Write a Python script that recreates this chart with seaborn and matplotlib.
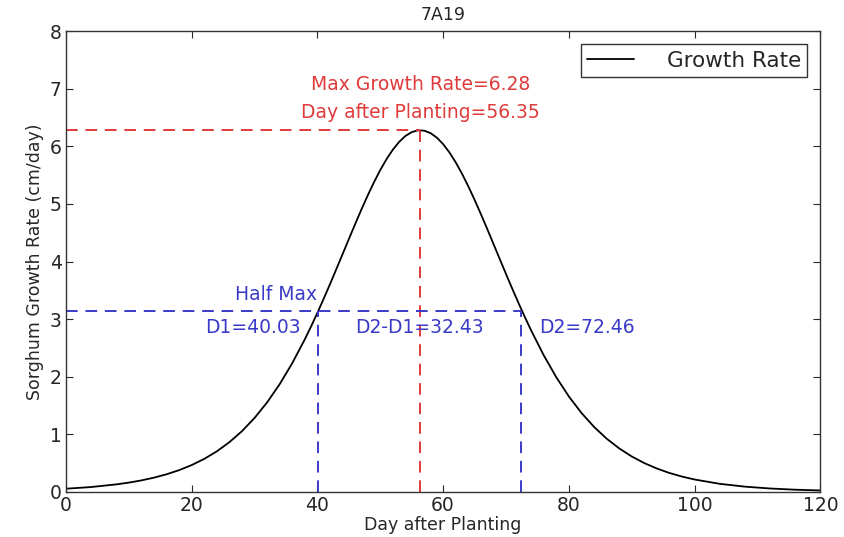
import matplotlib
matplotlib.use("Agg")
import matplotlib.pyplot as plt
import seaborn as sns
import pandas as pd

days = [0, 4, 8, 10, 12, 14, 16, 18, 20, 22, 24, 26, 28, 30, 32, 34, 36, 38, 39,
        40, 41, 42, 43, 44, 45, 46, 47, 48, 49, 50, 51, 52, 53, 54, 55, 56, 57,
        58, 59, 60, 61, 62, 63, 64, 65, 66, 67, 68, 69, 70, 71, 72, 73, 74, 76,
        78, 80, 82, 84, 86, 88, 90, 92, 94, 96, 98, 100, 104, 108, 112, 116, 120]
rate = [0.055, 0.084, 0.130, 0.161, 0.199, 0.247, 0.305, 0.377, 0.465, 0.572,
        0.703, 0.862, 1.053, 1.282, 1.552, 1.869, 2.233, 2.648, 2.872,
        3.107, 3.352, 3.604, 3.863, 4.124, 4.387, 4.647, 4.901, 5.145, 5.375,
        5.587, 5.777, 5.941, 6.076, 6.179, 6.246, 6.278, 6.272,
        6.230, 6.151, 6.039, 5.895, 5.723, 5.526, 5.308, 5.073, 4.826, 4.570,
        4.308, 4.046, 3.785, 3.528, 3.278, 3.036, 2.804, 2.373,
        1.991, 1.657, 1.371, 1.129, 0.925, 0.756, 0.615, 0.500, 0.406, 0.328,
        0.266, 0.215, 0.140, 0.091, 0.059, 0.038, 0.025]

max_rate = 6.28
peak_day = 56.35
half_max = 3.14
d1 = 40.03
d2 = 72.46
width = 32.43

sns.set_style("ticks")
plt.rcParams["font.family"] = ["DejaVu Sans"]
plt.rcParams["xtick.direction"] = "in"
plt.rcParams["ytick.direction"] = "in"

fig = plt.figure(figsize=(8.44, 5.37), dpi=100)
ax = fig.add_axes([0.078, 0.084, 0.894, 0.858])

df = pd.DataFrame({"day": days, "rate": rate})
sns.lineplot(data=df, x="day", y="rate", color="black", linewidth=1.3,
             label="Growth Rate", ax=ax)

red = "#e03a3a"
blue = "#3a3ac8"
ax.plot([0, peak_day], [max_rate, max_rate], "--", color=red, lw=1.4, dashes=(6, 4))
ax.plot([peak_day, peak_day], [0, max_rate], "--", color=red, lw=1.4, dashes=(6, 4))
ax.plot([0, d2], [half_max, half_max], "--", color=blue, lw=1.4, dashes=(6, 4))
ax.plot([d1, d1], [0, half_max], "--", color=blue, lw=1.4, dashes=(6, 4))
ax.plot([d2, d2], [0, half_max], "--", color=blue, lw=1.4, dashes=(6, 4))

fs = 13.5
ax.text(peak_day, 7.08, f"Max Growth Rate={max_rate}", color=red, ha="center", va="center", fontsize=fs)
ax.text(peak_day, 6.58, f"Day after Planting={peak_day}", color=red, ha="center", va="center", fontsize=fs)
ax.text(39.9, 3.42, "Half Max", color=blue, ha="right", va="center", fontsize=fs)
ax.text(37.3, 2.85, f"D1={d1}", color=blue, ha="right", va="center", fontsize=fs)
ax.text(56.2, 2.85, f"D2-D1={width}", color=blue, ha="center", va="center", fontsize=fs)
ax.text(75.3, 2.85, f"D2={d2}", color=blue, ha="left", va="center", fontsize=fs)

ax.set_xlim(0, 120)
ax.set_ylim(0, 8)
ax.set_xticks(range(0, 121, 20))
ax.set_yticks(range(0, 9))
ax.tick_params(top=True, right=True, labelsize=13.5, length=5, width=0.8, pad=3)
for s in ax.spines.values():
    s.set_linewidth(1.0)
    s.set_color("#333333")
ax.set_xlabel("Day after Planting", fontsize=12.5, labelpad=1)
ax.set_ylabel("Sorghum Growth Rate (cm/day)", fontsize=12.5)
ax.set_title("7A19", fontsize=12.5, pad=8)
leg = ax.legend(loc="upper right", fontsize=15.5, frameon=True, fancybox=False,
                edgecolor="black", handlelength=2.2, handletextpad=1.5,
                borderpad=0.3, borderaxespad=0.6)
leg.get_frame().set_linewidth(1.0)

fig.savefig("out.png", dpi=100)
